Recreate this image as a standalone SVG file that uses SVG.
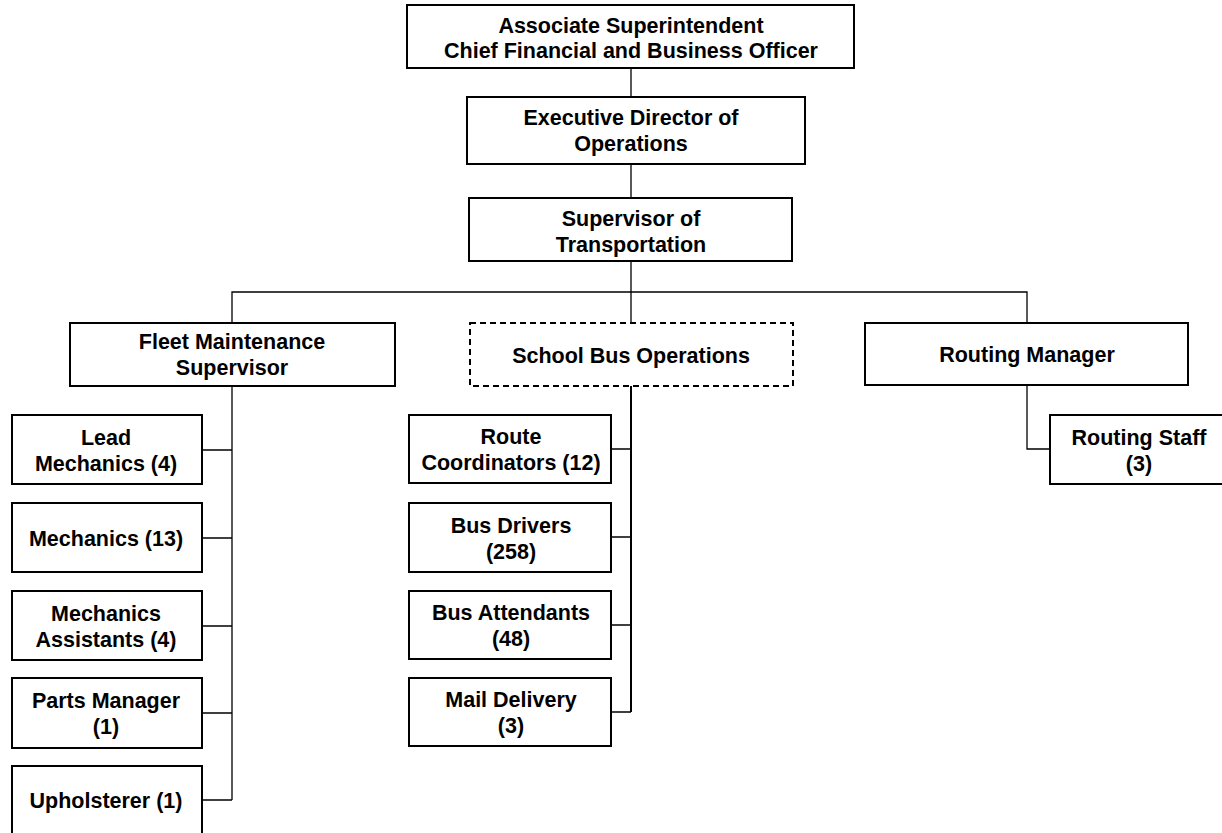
<svg xmlns="http://www.w3.org/2000/svg" width="1222" height="833" viewBox="0 0 1222 833">
<style>
.box{fill:#fff;stroke:#000;stroke-width:2}
.dash{fill:#fff;stroke:#000;stroke-width:2;stroke-dasharray:6,4}
.t{font-family:"Liberation Sans",Arial,sans-serif;font-weight:bold;font-size:21.5px;fill:#000;text-anchor:middle}
.c{fill:none;stroke:#000;stroke-width:1.3}
.c2{fill:none;stroke:#000;stroke-width:2}
</style>
<rect width="1222" height="833" fill="#fff"/>
<g id="connectors">
<path class="c" d="M631 68V97M631 164V198M631 261V323M232 323V292H1027V323"/>
<path class="c" d="M232 386V800M202 450H232M202 538H232M202 626H232M202 713H232M202 800H232"/>
<path class="c2" d="M631 386V712"/>
<path class="c" d="M611 449H631M611 537H631M611 625H631M611 712H631"/>
<path class="c" d="M1027 385V449H1050"/>
</g>
<g id="n-assoc"><rect class="box" x="407" y="5" width="447" height="63"/><text class="t" x="631" y="32.5">Associate Superintendent</text><text class="t" x="631" y="58">Chief Financial and Business Officer</text></g>
<g id="n-exec"><rect class="box" x="467" y="97" width="338" height="67"/><text class="t" x="631" y="125">Executive Director of</text><text class="t" x="631" y="151">Operations</text></g>
<g id="n-super"><rect class="box" x="469" y="198" width="323" height="63"/><text class="t" x="631" y="225.5">Supervisor of</text><text class="t" x="631" y="251.5">Transportation</text></g>
<g id="n-fleet"><rect class="box" x="70" y="323" width="325" height="63"/><text class="t" x="232" y="349">Fleet Maintenance</text><text class="t" x="232" y="375">Supervisor</text></g>
<g id="n-sbo"><rect class="dash" x="470" y="323" width="323" height="63"/><text class="t" x="631" y="362.5">School Bus Operations</text></g>
<g id="n-routing"><rect class="box" x="865" y="323" width="323" height="62"/><text class="t" x="1027" y="362">Routing Manager</text></g>
<g id="n-lead"><rect class="box" x="12" y="415" width="190" height="69"/><text class="t" x="106" y="444.5">Lead</text><text class="t" x="106" y="470.5">Mechanics (4)</text></g>
<g id="n-mech"><rect class="box" x="12" y="503" width="190" height="69"/><text class="t" x="106" y="546">Mechanics (13)</text></g>
<g id="n-mecha"><rect class="box" x="12" y="591" width="190" height="69"/><text class="t" x="106" y="620.5">Mechanics</text><text class="t" x="106" y="646.5">Assistants (4)</text></g>
<g id="n-parts"><rect class="box" x="12" y="678" width="190" height="70"/><text class="t" x="106" y="708">Parts Manager</text><text class="t" x="106" y="734">(1)</text></g>
<g id="n-uph"><rect class="box" x="12" y="766" width="190" height="70"/><text class="t" x="106" y="808">Upholsterer (1)</text></g>
<g id="n-route"><rect class="box" x="409" y="415" width="202" height="68"/><text class="t" x="511" y="444">Route</text><text class="t" x="511" y="470">Coordinators (12)</text></g>
<g id="n-drivers"><rect class="box" x="409" y="503" width="202" height="69"/><text class="t" x="511" y="532.5">Bus Drivers</text><text class="t" x="511" y="558.5">(258)</text></g>
<g id="n-att"><rect class="box" x="409" y="591" width="202" height="68"/><text class="t" x="511" y="620">Bus Attendants</text><text class="t" x="511" y="646">(48)</text></g>
<g id="n-mail"><rect class="box" x="409" y="678" width="202" height="68"/><text class="t" x="511" y="707">Mail Delivery</text><text class="t" x="511" y="733">(3)</text></g>
<g id="n-rstaff"><rect class="box" x="1050" y="415" width="180" height="69"/><text class="t" x="1139" y="444.5">Routing Staff</text><text class="t" x="1139" y="470.5">(3)</text></g>
</svg>
